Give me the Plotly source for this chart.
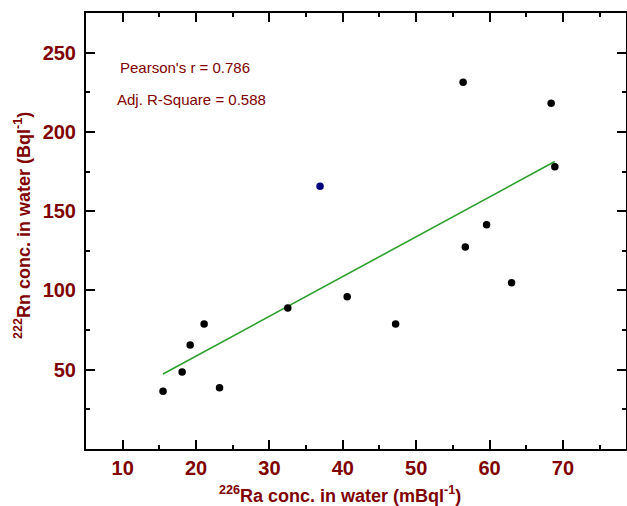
import plotly.graph_objects as go

# Data
ra_x = [15.5, 18.1, 19.2, 21.1, 23.2, 32.5, 40.6, 47.2, 56.4, 56.7, 59.6, 63.0, 68.4, 68.9]
rn_y = [36.5, 48.5, 65.6, 78.9, 38.6, 88.9, 96.0, 78.9, 231.3, 127.4, 141.5, 104.9, 218.1, 178.0]
outlier_x = [36.9]
outlier_y = [165.7]
fit_x = [15.5, 68.9]
fit_y = [47.3, 181.3]
x_ticks = [10, 20, 30, 40, 50, 60, 70]
y_ticks = [50, 100, 150, 200, 250]

RED = "#800000"
FONT = "Liberation Sans, Arial, sans-serif"

fig = go.Figure()
fig.add_trace(go.Scatter(x=fit_x, y=fit_y, mode="lines",
                         line=dict(color="#2ca02c", width=1.6), showlegend=False))
fig.add_trace(go.Scatter(x=ra_x, y=rn_y, mode="markers",
                         marker=dict(color="black", size=7.5), showlegend=False))
fig.add_trace(go.Scatter(x=outlier_x, y=outlier_y, mode="markers",
                         marker=dict(color="#00007f", size=7.5), showlegend=False))

axis_common = dict(
    showline=True, linecolor="black", linewidth=2, mirror="allticks",
    ticks="inside", ticklen=9, tickwidth=2, tickcolor="black",
    showgrid=False, zeroline=False, automargin=False,
    tickfont=dict(family=FONT, size=20, color=RED, weight="bold"),
)

fig.update_xaxes(range=[5, 78.6], tickvals=x_ticks,
                 minor=dict(dtick=5, tick0=5, ticks="inside", ticklen=4, tickwidth=2, tickcolor="black"),
                 ticklabelstandoff=0,
                 **axis_common)
fig.update_yaxes(range=[0, 275], tickvals=y_ticks,
                 minor=dict(dtick=25, tick0=0, ticks="inside", ticklen=4, tickwidth=2, tickcolor="black"),
                 ticklabelstandoff=4,
                 **axis_common)

fig.add_annotation(text="Pearson's r = 0.786", xref="paper", yref="paper",
                   x=(118 - 86) / 540, y=(449 - 68) / 436, xanchor="left", yanchor="middle",
                   showarrow=False, font=dict(family=FONT, size=15, color=RED))
fig.add_annotation(text="Adj. R-Square = 0.588", xref="paper", yref="paper",
                   x=(115 - 86) / 540, y=(449 - 99) / 436, xanchor="left", yanchor="middle",
                   showarrow=False, font=dict(family=FONT, size=15, color=RED))

fig.add_annotation(text="<sup>226</sup>Ra conc. in water (mBql<sup>-1</sup>)",
                   xref="paper", yref="paper", x=(340 - 86) / 540, y=(449 - 494) / 436,
                   xanchor="center", yanchor="middle", showarrow=False,
                   font=dict(family=FONT, size=18, color=RED, weight="bold"))
fig.add_annotation(text="<sup>222</sup>Rn conc. in water (Bql<sup>-1</sup>)",
                   xref="paper", yref="paper", x=(22 - 86) / 540, y=(449 - 226) / 436,
                   xanchor="center", yanchor="middle", textangle=-90, showarrow=False,
                   font=dict(family=FONT, size=18, color=RED, weight="bold"))

fig.update_layout(template="none", width=627, height=506,
                  margin=dict(l=86, r=1, t=13, b=57, autoexpand=False),
                  paper_bgcolor="white", plot_bgcolor="white")

fig.write_html("out.html", config={"displayModeBar": False},
               post_script="document.body.style.margin='0';document.body.style.overflow='hidden';")
